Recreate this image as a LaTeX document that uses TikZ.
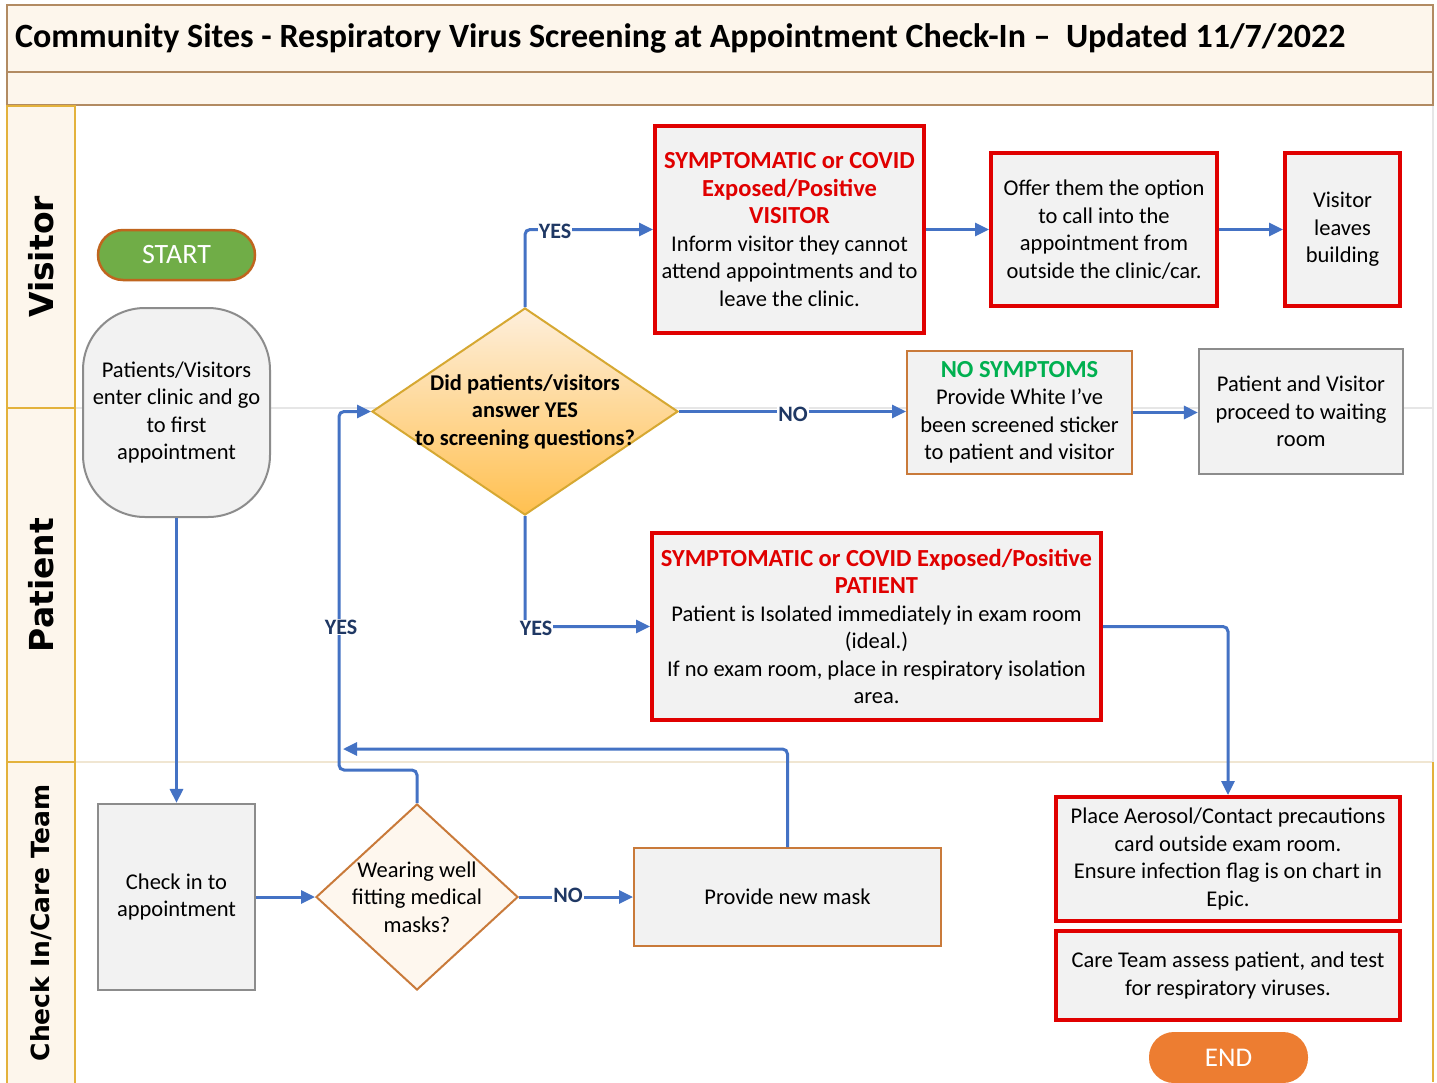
\documentclass[tikz,border=0pt]{standalone}
\usepackage{fontspec}
\setmainfont{Carlito}
\newfontfamily\lanefont{DejaVu Sans}
\usetikzlibrary{shapes.geometric,arrows.meta}
\definecolor{arrowblue}{HTML}{4472C4}
\definecolor{boxred}{HTML}{E00000}
\definecolor{boxfill}{HTML}{F2F2F2}
\definecolor{boxgray}{HTML}{8C8C8C}
\definecolor{boxorange}{HTML}{C97A3A}
\definecolor{lanebg}{HTML}{FDF6EC}
\definecolor{laneborder}{HTML}{E3B23C}
\definecolor{titleborder}{HTML}{B28B62}
\definecolor{labelnavy}{HTML}{1F3864}
\definecolor{startgreen}{HTML}{70AD47}
\definecolor{startborder}{HTML}{C0651E}
\definecolor{endorange}{HTML}{ED7D31}
\definecolor{nogreen}{HTML}{00B050}
\definecolor{diamtop}{HTML}{FEEFDC}
\definecolor{diambot}{HTML}{FFC050}
\definecolor{diamborder}{HTML}{D6A832}
\definecolor{diamtwo}{HTML}{FEF7EE}
\definecolor{sepgray}{HTML}{E6E6E6}
\definecolor{sepbeige}{HTML}{F0E6D2}
\newcommand\redhd[1]{{\color{boxred}\bfseries\fontsize{24.5}{28}\selectfont #1}}
\newcommand\greenhd[1]{{\color{nogreen}\bfseries\fontsize{24.5}{28}\selectfont #1}}
\tikzset{
  bodyfont/.style={font=\fontsize{22.5}{27.5}\selectfont},
  redbox/.style={draw=boxred, line width=4pt, fill=boxfill, align=center, inner sep=0pt, bodyfont},
  graybox/.style={draw=boxgray, line width=2.2pt, fill=boxfill, align=center, inner sep=0pt, bodyfont},
  orangebox/.style={draw=boxorange, line width=2pt, fill=boxfill, align=center, inner sep=0pt, bodyfont},
  flow/.style={draw=arrowblue, line width=3pt, -{Triangle[length=14pt,width=13pt]}, rounded corners=5pt},
  lbl/.style={font=\bfseries\fontsize{22}{24}\selectfont, text=labelnavy, fill=white, inner sep=1pt},
  lanebox/.style={draw=laneborder, line width=1.8pt, fill=lanebg},
  lanetext/.style={rotate=90, font=\lanefont\bfseries\fontsize{33}{36}\selectfont},
}
\begin{document}
\begin{tikzpicture}[x=1pt,y=-1pt]
\useasboundingbox (0,0) rectangle (1437,1082);
\fill[white] (0,0) rectangle (1437,1082);
% frame and title
\draw[titleborder, fill=lanebg, line width=1.8pt] (7,5) rectangle (1433,72);
\draw[titleborder, fill=lanebg, line width=1.8pt] (7,72) rectangle (1433,105);
\node[anchor=west, font=\bfseries\fontsize{34}{38}\selectfont, inner sep=0pt] (title) at (15,38)
  {Community Sites - Respiratory Virus Screening at Appointment Check-In –\ \ Updated 11/7/2022};
% lanes
\draw[sepgray, line width=1.5pt] (75,408) -- (1433,408);
\draw[sepbeige, line width=1.5pt] (75,762) -- (1433,762);
\draw[sepgray, line width=1.2pt] (1433,106) -- (1433,762);
\draw[laneborder, line width=1.8pt] (1433,762) -- (1433,1082);
\draw[lanebox] (7,106) rectangle (75,408);
\draw[lanebox] (7,408) rectangle (75,762);
\draw[lanebox] (7,762) rectangle (75,1084);
\node[lanetext] (lvisitor) at (41,257) {Visitor};
\node[lanetext] (lpatient) at (41,585) {Patient};
\node[lanetext, font=\lanefont\bfseries\fontsize{25}{28}\selectfont] (lcheck) at (41,923) {Check In/Care Team};
% nodes
\node[draw=startborder, line width=2.5pt, fill=startgreen, rounded corners=25pt, minimum width=157pt, minimum height=50pt, text=white, font=\fontsize{28}{30}\selectfont] (start) at (176.5,255) {START};
\node[draw=boxgray, line width=2pt, fill=boxfill, rounded corners=62pt, minimum width=187pt, minimum height=209pt, align=center, inner sep=0pt, bodyfont] (pv) at (176.5,412.5)
  {Patients/Visitors\\enter clinic and go\\to first\\appointment};
\node[diamond, draw=diamborder, line width=2pt, top color=diamtop, bottom color=diambot, minimum width=306pt, minimum height=207pt, inner sep=0pt] (d1) at (525,411.5) {};
\node[align=center, font=\bfseries\fontsize{22.5}{27.5}\selectfont, inner sep=0pt] (d1t) at (525,411.5) {Did patients/visitors\\answer YES\\to screening questions?};
\node[redbox, minimum width=269pt, minimum height=207pt] (v1) at (789.5,229.5)
  {\redhd{SYMPTOMATIC or COVID}\\\redhd{Exposed/Positive}\\\redhd{VISITOR}\\Inform visitor they cannot\\attend appointments and to\\leave the clinic.};
\node[redbox, minimum width=226pt, minimum height=153pt] (v2) at (1104,229.5)
  {Offer them the option\\to call into the\\appointment from\\outside the clinic/car.};
\node[redbox, minimum width=115pt, minimum height=153pt] (v3) at (1342.5,229.5)
  {Visitor\\leaves\\building};
\node[orangebox, minimum width=225pt, minimum height=123pt] (nosym) at (1019.5,412.5)
  {\greenhd{NO SYMPTOMS}\\Provide White I’ve\\been screened sticker\\to patient and visitor};
\node[graybox, minimum width=204pt, minimum height=125pt] (wait) at (1301,411.5)
  {Patient and Visitor\\proceed to waiting\\room};
\node[redbox, minimum width=449pt, minimum height=187pt] (p1) at (876.5,626.5)
  {\redhd{SYMPTOMATIC or COVID Exposed/Positive}\\\redhd{PATIENT}\\Patient is Isolated immediately in exam room\\(ideal.)\\If no exam room, place in respiratory isolation\\area.};
\node[redbox, minimum width=344pt, minimum height=124pt] (place) at (1228,859)
  {Place Aerosol/Contact precautions\\card outside exam room.\\Ensure infection flag is on chart in\\Epic.};
\node[redbox, minimum width=344pt, minimum height=89pt] (care) at (1228,975.5)
  {Care Team assess patient, and test\\for respiratory viruses.};
\node[draw=endorange, line width=2pt, fill=endorange, rounded corners=24pt, minimum width=157pt, minimum height=49pt, text=white, font=\fontsize{27}{29}\selectfont] (end) at (1228.5,1057.5) {END};
\node[graybox, minimum width=157pt, minimum height=186pt] (checkin) at (176.5,897)
  {Check in to\\appointment};
\node[diamond, draw=boxorange, line width=2pt, fill=diamtwo, minimum width=202pt, minimum height=186pt, inner sep=0pt] (d2) at (417,897) {};
\node[align=center, bodyfont, inner sep=0pt] (d2t) at (417,897) {Wearing well\\fitting medical\\masks?};
\node[orangebox, minimum width=307pt, minimum height=98pt] (mask) at (787.5,897) {Provide new mask};
% connectors
\coordinate (loopa) at (339,770);
\coordinate (loopb) at (339,411.5);
\coordinate (maskend) at (343,749);
\draw[flow] (d1.north) |- (v1.west);
\draw[flow] (v1.east) -- (v2.west);
\draw[flow] (v2.east) -- (v3.west);
\draw[flow] (d1.east) -- (d1.east -| nosym.west);
\draw[flow] (nosym.east) -- (nosym.east -| wait.west);
\draw[flow] (d1.south) |- (p1.west);
\draw[flow] (p1.east) -| (place.north);
\draw[flow] (pv.south) -- (checkin.north);
\draw[flow] (checkin.east) -- (d2.west);
\draw[flow] (d2.east) -- (mask.west);
\draw[flow] (d2.north) |- (loopa) -- (loopb) -- (d1.west);
\draw[flow] (mask.north) |- (maskend);
% labels
\node[lbl] (yes1) at (555,231) {YES};
\node[lbl] (no1) at (793,414) {NO};
\node[lbl] (yes2) at (536,628) {YES};
\node[lbl] (yes3) at (341,627) {YES};
\node[lbl] (no2) at (568,895) {NO};
\end{tikzpicture}
\end{document}
